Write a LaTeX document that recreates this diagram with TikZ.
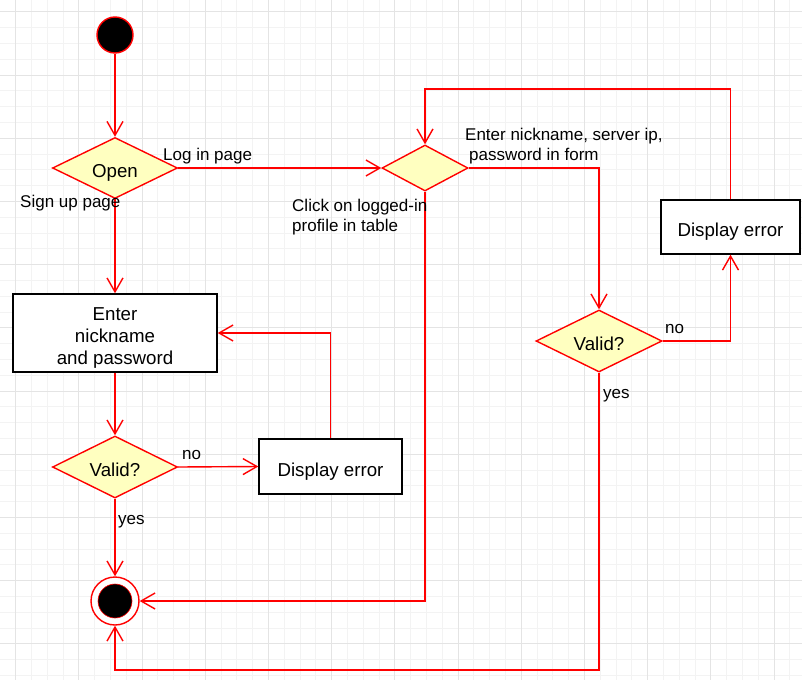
\documentclass[tikz,border=0pt]{standalone}
\usepackage{fontspec}
\setmainfont{Liberation Sans}
\usetikzlibrary{shapes.geometric,arrows.meta}
\definecolor{gridminor}{HTML}{F3F3F3}
\definecolor{gridmajor}{HTML}{E4E4E4}
\definecolor{decfill}{HTML}{FFFFC0}
\tikzset{
  flow/.style={draw=red, line width=1.4pt, -{Straight Barb[length=14pt,width=16pt]}},
  decision/.style={diamond, aspect=2, draw=red, fill=decfill, line width=1.4pt, inner sep=0pt,
    text height=19.5pt, text depth=0pt, font=\fontsize{18.7}{22}\selectfont},
  activity/.style={rectangle, draw=black, fill=white, line width=1.4pt, align=center,
    text height=19.5pt, text depth=0pt, font=\fontsize{18.7}{22}\selectfont},
  initstate/.style={circle, draw=red, fill=black, line width=1.4pt, minimum size=36pt},
  endstate/.style={circle, draw=red, fill=white, line width=1.4pt, minimum size=48pt,
    path picture={\filldraw[fill=black, draw=red, line width=0.6pt] (path picture bounding box.center) circle (17pt);}},
  lbl/.style={anchor=base west, inner sep=0pt, font=\fontsize{17}{20}\selectfont},
  lbltwo/.style={anchor=west, inner sep=0pt, align=left, font=\fontsize{17}{20}\selectfont}
}

\begin{document}
\begin{tikzpicture}[x=1pt, y=-1pt]
   \useasboundingbox (0,0) rectangle (802,680);
   \fill[white] (0,0) rectangle (802,680);
   % grid
   \foreach \i in {0,...,50} {
     \draw[gridminor, line width=0.7pt] (15.5+15.8*\i-15.8,0) -- (15.5+15.8*\i-15.8,680);
   }
   \foreach \i in {0,...,43} {
     \draw[gridminor, line width=0.7pt] (0,11.7+15.8*\i) -- (802,11.7+15.8*\i);
   }
   \foreach \i in {0,...,12} {
     \draw[gridmajor, line width=0.7pt] (15.5+63.2*\i,0) -- (15.5+63.2*\i,680);
   }
   \foreach \i in {0,...,10} {
     \draw[gridmajor, line width=0.7pt] (0,11.7+63.2*\i) -- (802,11.7+63.2*\i);
   }

   % nodes
   \node[initstate] (start) at (115,35) {};
   \node[decision, minimum width=125pt, minimum height=61pt] (open) at (115,168) {Open};
   \node[decision, minimum width=86pt, minimum height=46pt] (login) at (425,168) {};
   \node[activity, text height=63.5pt, minimum width=204pt, minimum height=78pt] (enter) at (115,333) {Enter\\nickname\\and password};
   \node[decision, minimum width=125pt, minimum height=62pt] (valid1) at (115,467) {Valid?};
   \node[activity, minimum width=143pt, minimum height=55pt] (err1) at (330.5,466.5) {Display error};
   \node[decision, minimum width=126pt, minimum height=62pt] (valid2) at (599,341) {Valid?};
   \node[activity, minimum width=139pt, minimum height=54pt] (err2) at (730.5,227) {Display error};
   \node[endstate] (stop) at (115,601) {};
   \coordinate (loopTop) at (425,89);
   \coordinate (loopBot) at (599,670);

   % connectors
   \draw[flow] (start) -- (open);
   \draw[flow] (open.east) -- (login.west);
   \draw[flow] (open.south) -- (enter.north);
   \draw[flow] (enter.south) -- (valid1.north);
   \draw[flow] (valid1.east) -- (err1.west);
   \draw[flow] (err1.north) |- (enter.east);
   \draw[flow] (valid1.south) -- (stop.north);
   \draw[flow] (login.east) -| (valid2.north);
   \draw[flow] (valid2.east) -| (err2.south);
   \draw[flow] (err2.north) |- (loopTop) -- (login.north);
   \draw[flow] (valid2.south) -- (loopBot) -| (stop.south);
   \draw[flow] (login.south) |- (stop.east);

   % labels
   \node[lbl] (lLogin) at (163,160) {Log in page};
   \node[lbl] (lSignup) at (20,207) {Sign up page};
   \node[lbltwo] (lClick) at (292,216.8) {Click on logged-in\\profile in table};
   \node[lbltwo] (lForm) at (465,146.6) {Enter nickname, server ip,\\\hspace*{4pt}password in form};
   \node[lbl] (lNo1) at (182,459) {no};
   \node[lbl] (lYes1) at (118,524) {yes};
   \node[lbl] (lNo2) at (665,333) {no};
   \node[lbl] (lYes2) at (603,398.5) {yes};
\end{tikzpicture}
\end{document}
